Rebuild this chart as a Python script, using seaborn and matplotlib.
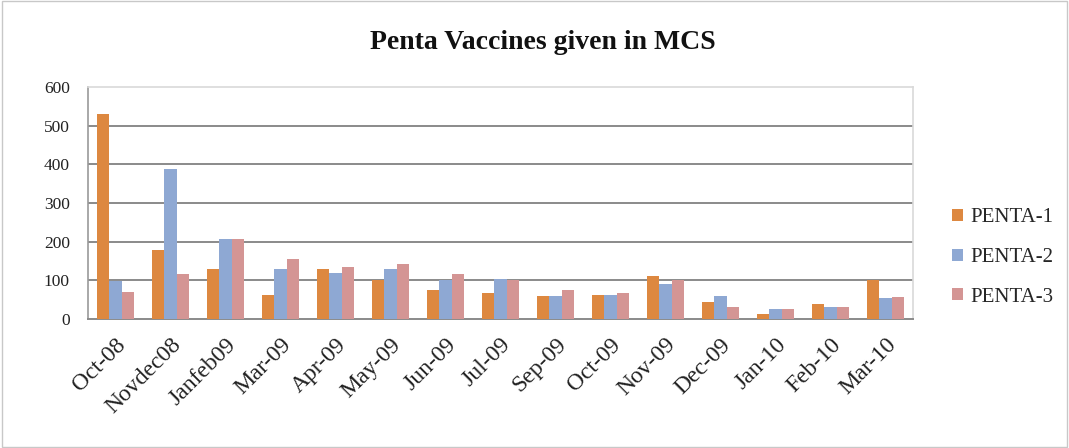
import matplotlib
matplotlib.use("Agg")
import matplotlib.pyplot as plt
import seaborn as sns
import pandas as pd

months = ["Oct-08", "Novdec08", "Janfeb09", "Mar-09", "Apr-09", "May-09", "Jun-09",
          "Jul-09", "Sep-09", "Oct-09", "Nov-09", "Dec-09", "Jan-10", "Feb-10", "Mar-10"]
penta1 = [530, 179, 130, 63, 130, 100, 75, 68, 60, 63, 112, 45, 12, 38, 100]
penta2 = [99, 389, 207, 130, 119, 130, 100, 104, 60, 63, 90, 60, 27, 31, 53]
penta3 = [71, 115, 207, 156, 134, 142, 116, 100, 75, 68, 100, 31, 27, 31, 57]
series = ["PENTA-1", "PENTA-2", "PENTA-3"]
colors = ["#DD8840", "#8EA8D3", "#D49594"]

df = pd.DataFrame({
    "month": months * 3,
    "value": penta1 + penta2 + penta3,
    "series": [s for s in series for _ in months],
})

sns.set_style("white")
plt.rcParams["font.family"] = ["Liberation Serif", "DejaVu Serif"]

fig = plt.figure(figsize=(10.69, 4.48), dpi=100)
ax = fig.add_axes([0.0823, 0.288, 0.7717, 0.518])

sns.barplot(data=df, x="month", y="value", hue="series", order=months,
            hue_order=series, palette=colors, width=0.68, saturation=1,
            edgecolor="none", ax=ax, zorder=3)

ax.set_ylim(0, 600)
ax.set_xlim(-0.5, len(months) - 0.5)
ax.set_yticks(range(0, 601, 100))
for y in range(100, 600, 100):
    ax.axhline(y, color="#8a8a8a", lw=1.4, zorder=1)
ax.set_xlabel("")
ax.set_ylabel("")
ax.tick_params(axis="both", length=0, colors="#222222")
ax.tick_params(axis="y", labelsize=12.5, pad=13)
ax.tick_params(axis="x", labelsize=17, pad=11)
plt.setp(ax.get_xticklabels(), rotation=45, ha="right", rotation_mode="anchor")

for side in ["top", "right"]:
    ax.spines[side].set_color("#d9d9d9")
    ax.spines[side].set_linewidth(1.2)
ax.spines["left"].set_color("#9a9a9a")
ax.spines["left"].set_linewidth(1.2)
ax.spines["bottom"].set_color("#8a8a8a")
ax.spines["bottom"].set_linewidth(1.4)

fig.text(0.508, 0.905, "Penta Vaccines given in MCS", ha="center", va="center",
         fontsize=20, fontweight="bold", color="#111111")

leg = ax.legend(loc="center left", bbox_to_anchor=(1.025, 0.265), frameon=False,
                fontsize=15, handlelength=0.5, handleheight=0.5,
                handletextpad=0.35, labelspacing=1.0)

fig.patches.append(plt.Rectangle((0.002, 0.003), 0.996, 0.994, transform=fig.transFigure,
                                 fill=False, edgecolor="#c8c8c8", lw=1.0))

fig.savefig("out.png", dpi=100)
